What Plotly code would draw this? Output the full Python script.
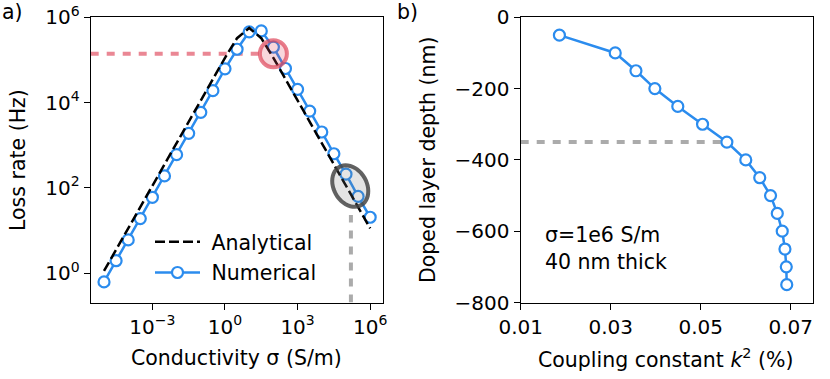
import numpy as np
import plotly.graph_objects as go

# panel a) loss rate vs conductivity
sigma_num = [1e-5, 3.16e-5, 1e-4, 3.16e-4, 1e-3, 3.16e-3, 1e-2, 3.16e-2, 0.1, 0.316, 1.0, 3.16,
             10.0, 31.6, 100.0, 316.0, 1e3, 3.16e3, 1e4, 3.16e4, 1e5, 3.16e5, 1e6]
rate_num = [0.62, 1.95, 6.0, 19, 60, 190, 600, 1900, 5900, 19000, 62000, 178000,
            457000, 479000, 200000, 63000, 20400, 6300, 2040, 630, 209, 63, 20.4]

sigma_ana = [1e-5, 1e-4, 1e-3, 1e-2, 0.1, 1.0, 3.16, 10.0, 31.6, 100.0, 1e3, 1e4, 1e5, 1e6]
rate_ana = [1.12, 11.2, 112, 1120, 11200, 112000, 324000, 562000, 324000, 112000,
            11200, 1120, 112, 11.2]

# panel b) coupling vs doped layer depth
k2 = [0.0186, 0.0310, 0.0356, 0.0398, 0.0449, 0.0504, 0.0558, 0.0600, 0.0631,
      0.0655, 0.0670, 0.0681, 0.0687, 0.0690, 0.0691]
depth = [-50, -100, -150, -200, -250, -300, -350, -400, -450, -500, -550, -600,
         -650, -700, -750]

xa_ticks = [1e-3, 1, 1e3, 1e6]
xa_text = ["10<sup>−3</sup>", "10<sup>0</sup>", "10<sup>3</sup>", "10<sup>6</sup>"]
ya_ticks = [1, 1e2, 1e4, 1e6]
ya_text = ["10<sup>0</sup>", "10<sup>2</sup>", "10<sup>4</sup>", "10<sup>6</sup>"]
xb_ticks = [0.01, 0.03, 0.05, 0.07]
xb_text = ["0.01", "0.03", "0.05", "0.07"]

# highlighted spots
red_mark = (100.0, 1.4e5)      # red circle
red_line_end = 28.0
grey_mark = (1.5e5, 110.0)     # grey ellipse
grey_line_x = 1.6e5
grey_line_top = 23.0
depth_mark = -350
k2_mark = 0.0558

XA_RANGE = [-5.55, 6.53]
YA_RANGE = [-0.69, 6.0]

BLUE = "#2b8cee"
FONT = "DejaVu Sans"
FS = 20.5
FS_TICK = 20

fig = go.Figure()

fig.add_trace(go.Scatter(
    x=sigma_num, y=rate_num, mode="lines+markers", name="\u00a0Numerical",
    line=dict(color=BLUE, width=2.5),
    marker=dict(size=11, color="white", line=dict(color=BLUE, width=2.2)),
    xaxis="x", yaxis="y", legendgroup="n", legendrank=2,
))
fig.add_trace(go.Scatter(
    x=sigma_ana, y=rate_ana, mode="lines", name="\u00a0Analytical",
    line=dict(color="black", width=2.5, dash="10px,4px"),
    xaxis="x", yaxis="y", legendgroup="a", legendrank=1,
))
fig.add_trace(go.Scatter(
    x=k2, y=depth, mode="lines+markers", showlegend=False,
    line=dict(color=BLUE, width=2.5),
    marker=dict(size=11, color="white", line=dict(color=BLUE, width=2.2)),
    xaxis="x2", yaxis="y2",
))
# empty trace so the overlay axes exist
fig.add_trace(go.Scatter(x=[], y=[], xaxis="x3", yaxis="y3", showlegend=False))

W, H = 830, 379
dom_a = [90.7 / W, 383.0 / W]
dom_b = [520.7 / W, 813.3 / W]
dom_y = [1 - 302.5 / H, 1 - 17.3 / H]

ax_common = dict(showline=True, linecolor="black", linewidth=1.3, mirror=True,
                 ticks="outside", ticklen=6, tickwidth=1.3, tickcolor="black",
                 showgrid=False, zeroline=False, automargin=False,
                 tickfont=dict(family=FONT, size=FS_TICK, color="black"))

fig.update_layout(
    width=W, height=H,
    margin=dict(l=0, r=0, t=0, b=0, autoexpand=False),
    paper_bgcolor="white", plot_bgcolor="white",
    font=dict(family=FONT, size=FS, color="black"),
    xaxis=dict(type="log", range=XA_RANGE, domain=dom_a, anchor="y",
               tickvals=xa_ticks, ticktext=xa_text, **ax_common),
    yaxis=dict(type="log", range=YA_RANGE, domain=dom_y, anchor="x",
               tickvals=ya_ticks, ticktext=ya_text, **ax_common),
    xaxis2=dict(range=[0.01, 0.075], domain=dom_b, anchor="y2",
                tickvals=xb_ticks, ticktext=xb_text, **ax_common),
    yaxis2=dict(range=[-800, 0], domain=dom_y, anchor="x2", dtick=200, **ax_common),
    xaxis3=dict(range=XA_RANGE, overlaying="x", visible=False, automargin=False),
    yaxis3=dict(range=YA_RANGE, overlaying="y", visible=False, automargin=False),
    legend=dict(x=150 / W, y=1 - 222 / H, xanchor="left", yanchor="top",
                bgcolor="rgba(0,0,0,0)", tracegroupgap=1, itemwidth=45,
                font=dict(family=FONT, size=FS, color="black")),
    showlegend=True,
)

# reference lines
red = "rgba(222,70,90,0.65)"
grey = "rgba(150,150,150,0.8)"
fig.add_shape(type="line", xref="x3", yref="y3", x0=XA_RANGE[0], x1=np.log10(red_line_end),
              y0=np.log10(red_mark[1]), y1=np.log10(red_mark[1]),
              line=dict(color=red, width=4, dash="8px,8px"), layer="below")
fig.add_shape(type="line", xref="x3", yref="y3", x0=np.log10(grey_line_x), x1=np.log10(grey_line_x),
              y0=YA_RANGE[0], y1=np.log10(grey_line_top),
              line=dict(color=grey, width=4, dash="8px,8px"), layer="below")
fig.add_shape(type="line", xref="x2", yref="y2", x0=0.01, x1=k2_mark,
              y0=depth_mark, y1=depth_mark,
              line=dict(color=grey, width=4, dash="8px,8px"), layer="below")

# red circle
r = 13.5
fig.add_shape(type="circle", xref="x3", yref="y3", xsizemode="pixel", ysizemode="pixel",
              xanchor=np.log10(red_mark[0]), yanchor=np.log10(red_mark[1]),
              x0=-r, x1=r, y0=-r, y1=r,
              line=dict(color="rgba(222,70,90,0.7)", width=4),
              fillcolor="rgba(222,70,90,0.22)")

# grey tilted ellipse (pixel path around anchor)
a, b, th = 22.0, 16.5, np.deg2rad(-60)
t = np.linspace(0, 2 * np.pi, 48, endpoint=False)
ex = a * np.cos(t) * np.cos(th) - b * np.sin(t) * np.sin(th)
ey = a * np.cos(t) * np.sin(th) + b * np.sin(t) * np.cos(th)
path = "M" + " L".join(f"{px:.2f},{py:.2f}" for px, py in zip(ex, ey)) + " Z"
fig.add_shape(type="path", xref="x3", yref="y3", xsizemode="pixel", ysizemode="pixel",
              xanchor=np.log10(grey_mark[0]), yanchor=np.log10(grey_mark[1]), path=path,
              line=dict(color="rgba(70,70,70,0.85)", width=4),
              fillcolor="rgba(120,120,120,0.2)")

def txt(x, y, s, xanchor="center", **kw):
    fig.add_annotation(x=x / W, y=1 - y / H, xref="paper", yref="paper", text=s,
                       xanchor=xanchor, yanchor="middle", showarrow=False,
                       font=dict(family=FONT, size=FS, color="black"), **kw)

txt(236.7, 358, "Conductivity σ (S/m)")
txt(18, 160, "Loss rate (Hz)", textangle=-90)
txt(665, 358, "Coupling constant <i>k</i><sup>2</sup> (%)")
txt(428, 160, "Doped layer depth (nm)", textangle=-90)
txt(12, 12, "a)")
txt(407, 12, "b)")
txt(543, 248, "σ=1e6 S/m<br>40 nm thick", xanchor="left", align="left")

# page body has a default 8px margin; drop it so the figure sits at the corner
fig.write_html("out.html", config={"displayModeBar": False},
               post_script="document.body.style.margin='0';")
